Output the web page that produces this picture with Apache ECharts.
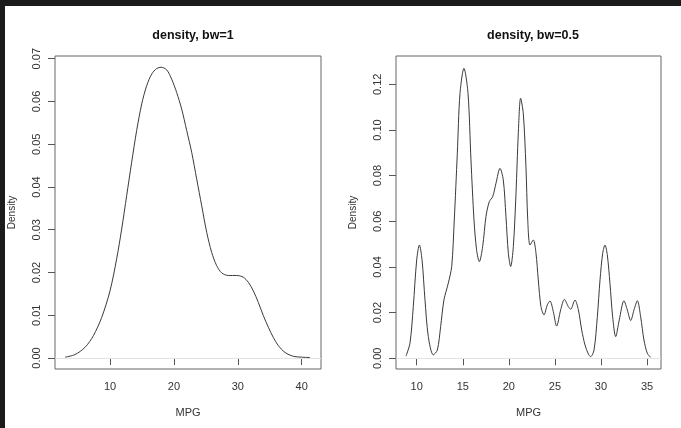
<!DOCTYPE html>
<html>
<head>
<meta charset="utf-8">
<script src="https://cdn.jsdelivr.net/npm/echarts@6/dist/echarts.min.js"></script>
<style>
  html, body { margin: 0; padding: 0; background: #fff; }
  #chart { width: 681px; height: 428px; }
</style>
</head>
<body>
<div id="chart"></div>
<script>
// density, bw=1 (left panel)
const bw1Mpg = [2.96, 4.52, 6.09, 7.39, 8.70, 10.0, 11.04, 11.83, 12.61, 13.39, 14.17, 14.96, 15.74, 16.52,
  17.30, 17.98, 18.87, 19.65, 20.43, 21.22, 22.0, 22.78, 23.56, 24.35, 25.13, 25.91, 26.69, 27.48, 28.52,
  29.82, 30.87, 31.65, 32.43, 33.21, 34.0, 34.78, 35.56, 36.34, 37.39, 38.69, 40.0, 41.30];
const bw1Density = [0.0002, 0.0008, 0.0025, 0.0052, 0.0095, 0.0157, 0.0232, 0.0302, 0.038, 0.0458, 0.0532,
  0.0594, 0.0637, 0.0664, 0.0677, 0.068, 0.0674, 0.0652, 0.0621, 0.0582, 0.0532, 0.0481, 0.0419, 0.0356,
  0.0294, 0.0247, 0.0216, 0.0199, 0.0193, 0.0193, 0.0189, 0.0177, 0.0157, 0.013, 0.0099, 0.0072, 0.0048,
  0.0029, 0.0013, 0.0004, 0.0002, 0.0001];

// density, bw=0.5 (right panel)
const bw05Mpg = [8.84, 9.27, 9.63, 10.0, 10.29, 10.58, 10.9, 11.26, 11.8, 12.24, 12.6, 12.96, 13.43, 13.8,
  14.08, 14.41, 14.7, 15.13, 15.57, 15.89, 16.22, 16.5, 16.8, 17.16, 17.52, 17.88, 18.25, 18.61, 19.04,
  19.4, 19.69, 19.95, 20.2, 20.49, 20.78, 21.03, 21.28, 21.57, 21.86, 22.05, 22.3, 22.66, 22.95, 23.2,
  23.49, 23.82, 24.18, 24.47, 24.83, 25.19, 25.63, 26.03, 26.46, 26.71, 27.18, 27.55, 27.91, 28.27, 28.63,
  28.88, 29.25, 29.61, 29.9, 30.19, 30.44, 30.69, 30.98, 31.27, 31.6, 31.99, 32.5, 32.86, 33.23, 33.59,
  33.95, 34.31, 34.67, 35.03, 35.4];
const bw05Density = [0.001, 0.0066, 0.0226, 0.0431, 0.0496, 0.0431, 0.0256, 0.0095, 0.0015, 0.0036, 0.0139,
  0.0256, 0.0329, 0.0402, 0.0606, 0.0898, 0.116, 0.127, 0.116, 0.0869, 0.0606, 0.0475, 0.0423, 0.0489,
  0.0621, 0.0686, 0.0708, 0.0767, 0.0832, 0.0781, 0.0621, 0.046, 0.0402, 0.0489, 0.0723, 0.0986, 0.1139,
  0.1073, 0.084, 0.061, 0.0496, 0.0518, 0.046, 0.0343, 0.0226, 0.019, 0.0234, 0.0251, 0.0204, 0.0141,
  0.0212, 0.0258, 0.0226, 0.0215, 0.0255, 0.0212, 0.0124, 0.0058, 0.0019, 0.0007, 0.0036, 0.0182, 0.0343,
  0.046, 0.0496, 0.0453, 0.0328, 0.0182, 0.0095, 0.0168, 0.0252, 0.0212, 0.0165, 0.0212, 0.0252, 0.0182,
  0.008, 0.0022, 0.0004];

const xTicks1 = [10, 20, 30, 40];
const yTicks1 = [0, 0.01, 0.02, 0.03, 0.04, 0.05, 0.06, 0.07];
const xTicks2 = [10, 15, 20, 25, 30, 35];
const yTicks2 = [0, 0.02, 0.04, 0.06, 0.08, 0.10, 0.12];

const font = "'Liberation Sans', Arial, sans-serif";
const ink = "#333";

function xAxisFor(gridIndex, min, max, ticks) {
  return {
    type: "value", gridIndex, min, max,
    name: "MPG", nameLocation: "middle", nameGap: 38,
    nameTextStyle: { color: ink, fontSize: 11, fontFamily: font },
    splitLine: { show: false },
    axisLine: { show: false },
    axisTick: { show: true, length: 7, customValues: ticks, lineStyle: { color: "#555" } },
    axisLabel: { customValues: ticks, margin: 12, color: ink, fontSize: 11, fontFamily: font },
  };
}

function yAxisFor(gridIndex, min, max, ticks) {
  return {
    type: "value", gridIndex, min, max,
    name: "Density", nameLocation: "middle", nameGap: 38, nameRotate: 90,
    nameTextStyle: { color: ink, fontSize: 10, fontFamily: font },
    splitLine: { show: false },
    axisLine: { show: false },
    axisTick: { show: true, length: 7, customValues: ticks, lineStyle: { color: "#555" } },
    axisLabel: {
      customValues: ticks, rotate: 90, margin: 13, color: ink, fontSize: 11, fontFamily: font,
      formatter: (v) => v.toFixed(2),
    },
  };
}

function curve(index, xs, ys) {
  return {
    type: "line", xAxisIndex: index, yAxisIndex: index,
    data: xs.map((x, i) => [x, ys[i]]),
    smooth: 0.3, showSymbol: false, silent: true,
    lineStyle: { color: "#3a3a3a", width: 1 },
    markLine: {
      silent: true, symbol: "none", label: { show: false },
      lineStyle: { color: "#e3e3e3", width: 1, type: "solid" },
      data: [{ yAxis: 0 }],
    },
    z: 3,
  };
}

const chart = echarts.init(document.getElementById("chart"));
chart.setOption({
  animation: false,
  backgroundColor: "#fff",
  title: [
    { text: "density, bw=1", left: 188, top: 24, textAlign: "center",
      textStyle: { fontSize: 12.5, fontWeight: "bold", color: "#111", fontFamily: font } },
    { text: "density, bw=0.5", left: 528, top: 24, textAlign: "center",
      textStyle: { fontSize: 12.5, fontWeight: "bold", color: "#111", fontFamily: font } },
  ],
  grid: [
    { left: 55, top: 56, width: 266, height: 313, show: true, borderColor: "#666", borderWidth: 1, backgroundColor: "transparent" },
    { left: 396, top: 56, width: 265, height: 313, show: true, borderColor: "#666", borderWidth: 1, backgroundColor: "transparent" },
  ],
  xAxis: [
    xAxisFor(0, 1.39, 43.02, xTicks1),
    xAxisFor(1, 7.753, 36.52, xTicks2),
  ],
  yAxis: [
    yAxisFor(0, -0.00257, 0.07063, yTicks1),
    yAxisFor(1, -0.0047, 0.1324, yTicks2),
  ],
  series: [
    curve(0, bw1Mpg, bw1Density),
    curve(1, bw05Mpg, bw05Density),
  ],
  graphic: [
    { type: "rect", shape: { x: 0, y: 0, width: 681, height: 6 }, style: { fill: "#1b1b1b" }, silent: true },
    { type: "rect", shape: { x: 0, y: 0, width: 5, height: 428 }, style: { fill: "#1b1b1b" }, silent: true },
  ],
});
</script>
</body>
</html>
